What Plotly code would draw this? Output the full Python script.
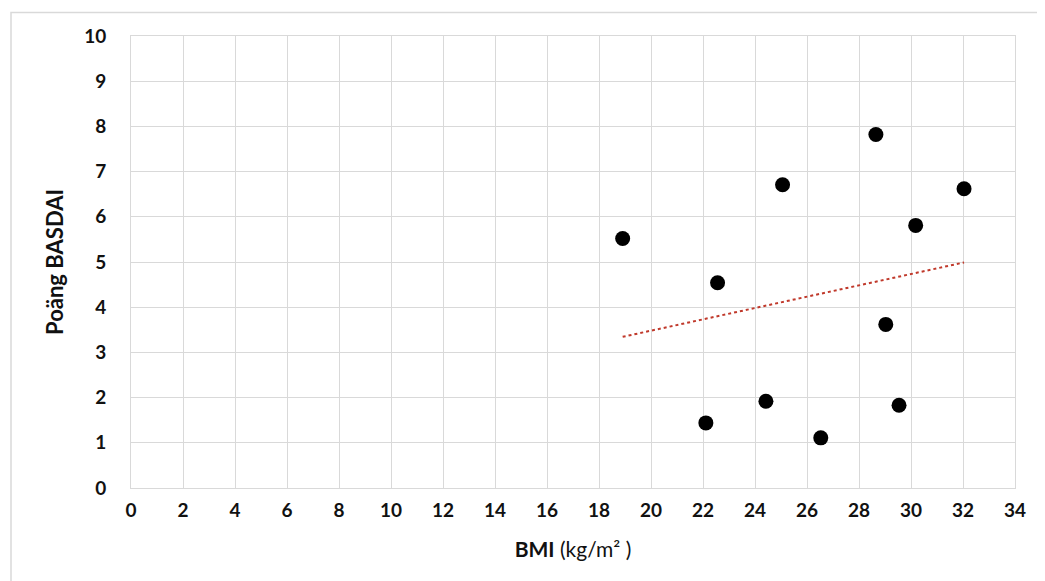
import numpy as np
import plotly.graph_objects as go

bmi = [18.91, 22.56, 25.06, 28.65, 32.04, 30.18, 29.03, 22.11, 24.42, 26.53, 29.54]
basdai = [5.52, 4.54, 6.71, 7.82, 6.62, 5.81, 3.62, 1.44, 1.92, 1.11, 1.83]
x_ticks = list(range(0, 35, 2))
y_ticks = list(range(0, 11, 1))

slope, intercept = np.polyfit(bmi, basdai, 1)
tx = [min(bmi), max(bmi)]
ty = [slope * v + intercept for v in tx]

FONT = "Lato"
TXT = "#111111"
fig = go.Figure()
fig.add_trace(go.Scatter(x=tx, y=ty, mode="lines",
                         line=dict(color="#c0392b", width=2, dash="dot"),
                         showlegend=False, hoverinfo="skip"))
fig.add_trace(go.Scatter(x=bmi, y=basdai, mode="markers",
                         marker=dict(color="#000000", size=15),
                         showlegend=False))

grid = "#d9d9d9"
fig.update_xaxes(range=[0, 34], tickvals=x_ticks, showgrid=True, gridcolor=grid, gridwidth=1,
                 showline=True, linecolor=grid, mirror=True, zeroline=False,
                 tickfont=dict(family=FONT, size=19, color=TXT, weight="bold"),
                 ticklabelstandoff=5,
                 title=dict(text="<b>BMI</b> (kg/m² )", standoff=22,
                            font=dict(family=FONT, size=21, color=TXT)))
fig.update_yaxes(range=[0, 10], tickvals=y_ticks, showgrid=True, gridcolor=grid, gridwidth=1,
                 showline=True, linecolor=grid, mirror=True, zeroline=False,
                 tickfont=dict(family=FONT, size=19, color=TXT, weight="bold"),
                 ticklabelstandoff=20,
                 title=dict(text="<b>Poäng BASDAI</b>", standoff=14,
                            font=dict(family=FONT, size=22, color=TXT)))

fig.add_shape(type="rect", xref="paper", yref="paper",
              x0=(3 - 123) / 884, x1=1.2, y0=-0.4, y1=(480 - 4.5) / 452,
              line=dict(color="#d9d9d9", width=1.5), fillcolor="rgba(0,0,0,0)", layer="below")

fig.update_layout(width=1037, height=573, plot_bgcolor="white", paper_bgcolor="white",
                  margin=dict(l=123, r=30, t=28, b=93, autoexpand=False))
fig.write_html("out.html")
